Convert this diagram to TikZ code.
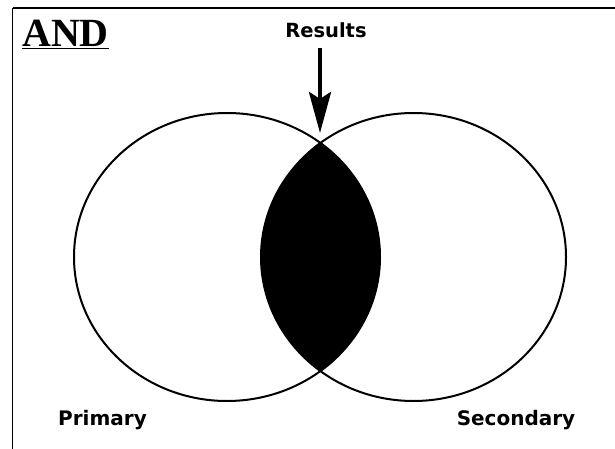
\documentclass[tikz,border=0pt]{standalone}
\usepackage{fontspec}
\usepackage{tikz}
\usetikzlibrary{arrows.meta}
\newfontfamily\lblfont{DejaVu Sans}
\newfontfamily\ttlfont{Liberation Serif}

\begin{document}
\begin{tikzpicture}[x=1pt,y=-1pt,
  lbl/.style={font=\lblfont\bfseries\fontsize{20}{24}\selectfont,inner sep=0pt,anchor=base},
  ttl/.style={font=\ttlfont\bfseries\fontsize{40}{44}\selectfont,inner sep=0pt,anchor=base west},
  ring/.style={draw,line width=2pt}]
\useasboundingbox (0,0) rectangle (615,449);
% --- frame ---
\draw[line width=2pt] (12.5,8) -- (615,8);
\draw[line width=1.6pt] (12.5,8) -- (12.5,449);
% --- the two sets and their overlap ---
\coordinate (p) at (227,257);
\coordinate (s) at (413.5,257);
\begin{scope}
  \clip (p) ellipse [x radius=153,y radius=144];
  \fill (s) ellipse [x radius=152.5,y radius=144];
\end{scope}
\draw[ring] (p) ellipse [x radius=153,y radius=144];
\draw[ring] (s) ellipse [x radius=152.5,y radius=144];
% --- labels ---
\node[ttl] (and) at (22,47) {\underline{AND}};
\node[lbl,font=\lblfont\bfseries\fontsize{19.5}{22}\selectfont] (res) at (326,38) {Results};
\node[lbl] (prim) at (102.5,425) {Primary};
\node[lbl] (sec) at (516,425) {Secondary};
% arrow to the overlap
\coordinate (tip) at (320,133);
\draw[line width=4.5pt,-{Stealth[length=41pt,width=22pt,inset=7pt]},shorten <=10pt] (tip |- res.south) -- (tip);
\end{tikzpicture}
\end{document}
